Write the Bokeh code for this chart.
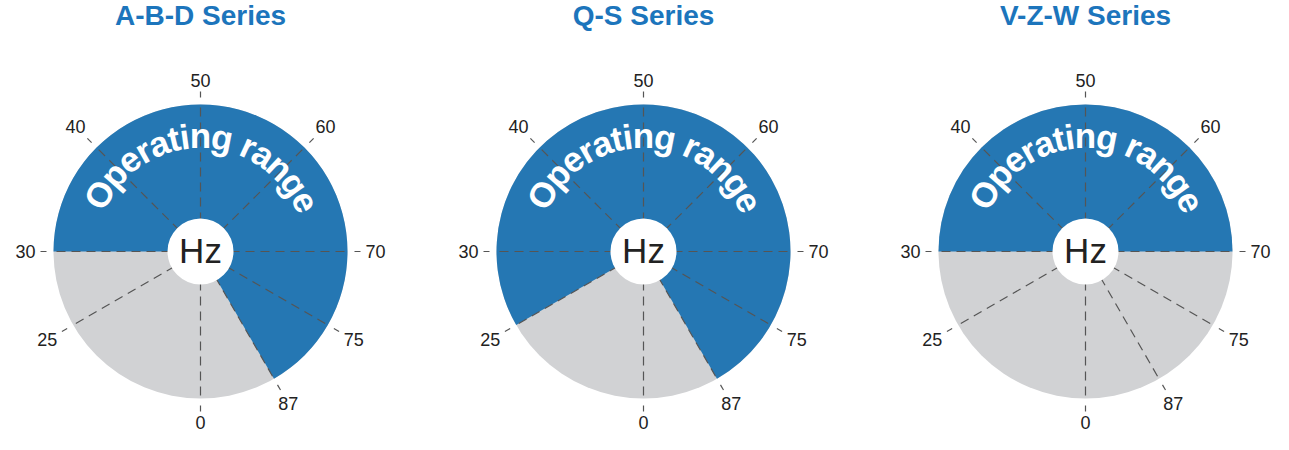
import math
from bokeh.plotting import figure
from bokeh.models import Range1d
from bokeh.embed import file_html
from bokeh.resources import INLINE
from bokeh.core.properties import value

# ---------------- data ----------------
series_names = ["A-B-D Series", "Q-S Series", "V-Z-W Series"]
range_low = ["30", "25", "30"]          # lower end of operating range (Hz)
range_high = ["87", "87", "70"]         # upper end of operating range (Hz)
tick_labels = ["0", "25", "30", "40", "50", "60", "70", "75", "87"]
tick_angles = [270, 210, 180, 135, 90, 45, 0, -30, -60]   # dial position of each tick (deg)
center_text = "Hz"
band_text = "Operating range"

# ---------------- layout / style ----------------
W, H = 1273, 434
FONT = "Liberation Sans"
BLUE = "#2577b3"
GREY = "#d1d2d4"
TITLE_C = "#1c75bc"
LINE_C = "#555555"
R = 147
R_IN = 33
CY = H - 251
CX = [200, 643, 1085]
T0, T1 = R + 7, R + 13          # outer tick span
LAB_FS = 18

# Arial-bold advance widths (per em) for curved label layout
ADV = {"O": .778, "p": .611, "e": .556, "r": .389, "a": .556, "t": .333,
       "i": .278, "n": .611, "g": .611, " ": .278}

p = figure(width=W, height=H, x_range=Range1d(0, W), y_range=Range1d(0, H),
           output_backend="svg", toolbar_location=None, min_border=0)
p.axis.visible = False
p.grid.visible = False
p.outline_line_color = None
p.background_fill_color = "white"
p.border_fill_color = "white"

ang = dict(zip(tick_labels, tick_angles))
rad = [math.radians(a) for a in tick_angles]
# label distance: beyond the tick end, pushed out by half the label's extent along its direction
lab_r = [T1 + 5 + abs(math.cos(a)) * len(t) * 0.556 * LAB_FS / 2 + abs(math.sin(a)) * 0.72 * LAB_FS / 2
         for t, a in zip(tick_labels, rad)]

for k, name in enumerate(series_names):
    cx = CX[k]
    # background disc
    p.circle(x=[cx], y=[CY], radius=R, fill_color=GREY, line_color=None)
    # operating range wedge
    a0 = math.radians(ang[range_high[k]])
    a1 = math.radians(ang[range_low[k]])
    p.wedge(x=[cx], y=[CY], radius=R, start_angle=a0, end_angle=a1, direction="anticlock",
            fill_color=BLUE, line_color=None)
    # radial dashed lines
    p.segment(x0=[cx] * len(rad), y0=[CY] * len(rad),
              x1=[cx + R * math.cos(a) for a in rad], y1=[CY + R * math.sin(a) for a in rad],
              line_color=LINE_C, line_width=1.2, line_dash="9 6")
    # outer ticks
    p.segment(x0=[cx + T0 * math.cos(a) for a in rad], y0=[CY + T0 * math.sin(a) for a in rad],
              x1=[cx + T1 * math.cos(a) for a in rad], y1=[CY + T1 * math.sin(a) for a in rad],
              line_color=LINE_C, line_width=1.2)
    # tick labels
    p.text(x=[cx + r * math.cos(a) for r, a in zip(lab_r, rad)],
           y=[CY + r * math.sin(a) for r, a in zip(lab_r, rad)],
           text=tick_labels, text_font=value(FONT), text_font_size=f"{LAB_FS}px", text_color="#222222",
           text_align="center", text_baseline="middle")
    # centre disc + Hz
    p.circle(x=[cx], y=[CY], radius=R_IN, fill_color="white", line_color=None)
    p.text(x=[cx], y=[CY + 1], text=[center_text], text_font=value(FONT), text_font_size="35px",
           text_color="#222222", text_align="center", text_baseline="middle")
    # curved label
    fs = 35
    r_text = 116
    r_adv = 113
    mid_angle = 89.0
    total = sum(ADV.get(c, .556) for c in band_text)
    xs, ys, ts, angs = [], [], [], []
    cum = 0.0
    for ch in band_text:
        w = ADV.get(ch, .556)
        mid = cum + w / 2
        phi = math.radians(mid_angle) - (mid - total / 2) * fs / r_adv
        cum += w
        if ch == " ":
            continue
        xs.append(cx + r_text * math.cos(phi))
        ys.append(CY + r_text * math.sin(phi))
        ts.append(ch)
        angs.append(phi - math.pi / 2)
    p.text(x=xs, y=ys, text=ts, angle=angs, text_font=value(FONT), text_font_size=f"{fs}px",
           text_font_style="bold", text_color="white", text_align="center", text_baseline="alphabetic")
    # title
    p.text(x=[cx], y=[H - 15], text=[name], text_font=value(FONT), text_font_size="28px",
           text_font_style="bold", text_color=TITLE_C, text_align="center", text_baseline="middle")

open("out.html", "w").write(file_html(p, INLINE))
